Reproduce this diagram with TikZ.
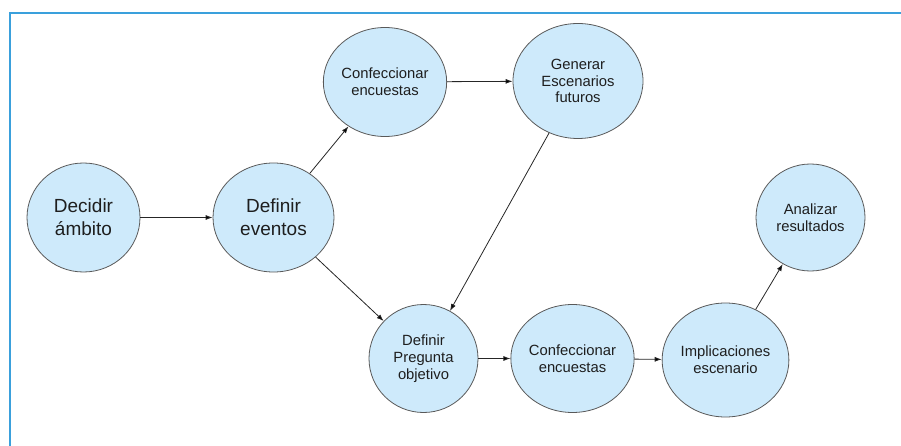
\documentclass[tikz,border=0pt]{standalone}
\usepackage{fontspec}
\setmainfont{Liberation Sans}
\usetikzlibrary{shapes.geometric,arrows.meta}
\definecolor{bubble}{RGB}{206,234,251}
\definecolor{frameblue}{RGB}{58,160,220}
\definecolor{ink}{RGB}{30,30,30}
\tikzset{
  paso/.style={ellipse,draw=black!65,fill=bubble,line width=0.8pt,inner sep=0pt,
    align=center,text=ink,font=\fontsize{14.8}{16.7}\selectfont},
  grande/.style={paso,font=\fontsize{19}{22.7}\selectfont},
  flecha/.style={-{Latex[length=7pt,width=5pt]},line width=0.8pt,draw=black!85}
}
\begin{document}
\begin{tikzpicture}[x=1pt,y=-1pt]
\useasboundingbox (0,0) rectangle (901,446);
\coordinate (fa) at (10,446);
\coordinate (fb) at (10,13);
\coordinate (fc) at (901,13);
\draw[frameblue,line width=2.5pt] (fa) -- (fb) -- (fc);
\node[grande,minimum width=113pt,minimum height=109pt] (decidir) at (83.5,217.5) {Decidir\\ámbito};
\node[grande,minimum width=121pt,minimum height=109pt] (eventos) at (273.5,217.5) {Definir\\eventos};
\node[paso,minimum width=116pt,minimum height=109pt] (conf1) at (385,82) {Confeccionar\\encuestas};
\node[paso,minimum width=130pt,minimum height=115pt] (generar) at (578,81) {Generar\\Escenarios\\futuros};
\node[paso,minimum width=109pt,minimum height=108pt] (pregunta) at (423.5,358.5) {Definir\\Pregunta\\objetivo};
\node[paso,minimum width=109pt,minimum height=108pt] (conf2) at (572.5,358.5) {Confeccionar\\encuestas};
\node[paso,minimum width=115pt,minimum height=114pt] (implic) at (725.5,360) {Implicaciones\\escenario};
\node[paso,minimum width=109pt,minimum height=107pt] (analizar) at (810.5,217.5) {Analizar\\resultados};
\draw[flecha] (decidir) edge (eventos);
\draw[flecha] (eventos) edge (conf1);
\draw[flecha] (eventos) edge (pregunta);
\draw[flecha] (conf1) edge (generar);
\draw[flecha] (generar) edge (pregunta);
\draw[flecha] (pregunta) edge (conf2);
\draw[flecha] (conf2) edge (implic);
\draw[flecha] (implic) edge (analizar);
\end{tikzpicture}
\end{document}
